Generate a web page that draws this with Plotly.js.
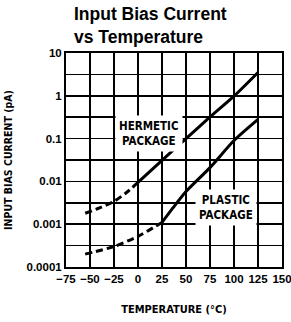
<!DOCTYPE html>
<html><head><meta charset="utf-8">
<script src="https://cdn.plot.ly/plotly-3.0.1.min.js"></script>
<style>body{margin:0;background:#fff}#c{width:291px;height:322px}</style>
</head><body><div id="c"></div>
<script>
// Hermetic package
const hermDashX = [-55, -40, -25, -12, 0];
const hermDashY = [0.0018, 0.0024, 0.0034, 0.0055, 0.0095];
const hermSolidX = [0, 25, 50, 75, 100, 125];
const hermSolidY = [0.0095, 0.031, 0.1, 0.32, 0.98, 3.5];
// Plastic package
const plasDashX = [-55, -25, 0, 25];
const plasDashY = [0.0002, 0.0003, 0.00052, 0.0011];
const plasSolidX = [25, 37, 50, 75, 100, 125];
const plasSolidY = [0.0011, 0.0025, 0.0058, 0.021, 0.09, 0.28];

const yTicks = [0.0001, 0.001, 0.01, 0.1, 1, 10];
const yTickText = ['0.0001', '0.001', '0.01', '0.1', '1', '10'];
const yMinor = [0.000316, 0.00316, 0.0316, 0.316, 3.16];
const xTicks = [-75, -50, -25, 0, 25, 50, 75, 100, 125, 150];

const narrow = 'DejaVu Sans Condensed, Liberation Sans Narrow, Arial Narrow, sans-serif';
const sans = 'Liberation Sans, Arial, sans-serif';
const lineStyle = (dash) => ({color: '#000', width: 3, dash: dash, shape: 'spline', smoothing: 0.6});

const traces = [
  {x: hermDashX, y: hermDashY, mode: 'lines', line: lineStyle('7px,4px'), hoverinfo: 'skip'},
  {x: hermSolidX, y: hermSolidY, mode: 'lines', line: lineStyle('solid'), hoverinfo: 'skip'},
  {x: plasDashX, y: plasDashY, mode: 'lines', line: lineStyle('7px,4px'), hoverinfo: 'skip'},
  {x: plasSolidX, y: plasSolidY, mode: 'lines', line: lineStyle('solid'), hoverinfo: 'skip'}
];

const layout = {
  width: 291, height: 322,
  margin: {l: 66, r: 9, t: 53, b: 55},
  showlegend: false,
  paper_bgcolor: '#fff', plot_bgcolor: '#fff',
  xaxis: {
    range: [-75, 150], tickmode: 'array', tickvals: xTicks,
    showgrid: true, gridcolor: '#000', gridwidth: 1.5,
    showline: true, mirror: true, linecolor: '#000', linewidth: 2,
    zeroline: false, ticks: '', ticklabeloverflow: 'allow',
    tickfont: {family: sans, size: 11.5, color: '#000', weight: 'bold'},
    title: {text: '<b>TEMPERATURE (°C)</b>', standoff: 22,
      font: {family: narrow, size: 11, color: '#000'}}
  },
  yaxis: {
    type: 'log', range: [-4, 1], tickmode: 'array', tickvals: yTicks, ticktext: yTickText,
    showgrid: true, gridcolor: '#000', gridwidth: 1.5,
    minor: {tickmode: 'array', tickvals: yMinor, showgrid: true, gridcolor: '#000', gridwidth: 1.5, ticks: ''},
    showline: true, mirror: true, linecolor: '#000', linewidth: 2,
    zeroline: false, ticks: '',
    tickfont: {family: sans, size: 11.5, color: '#000', weight: 'bold'},
    title: {text: '<b>INPUT BIAS CURRENT (pA)</b>', standoff: 12,
      font: {family: narrow, size: 10.5, color: '#000'}}
  },
  annotations: [
    {xref: 'paper', yref: 'paper', x: (72 - 66) / 216, y: 1 + (53 - 2) / 214, xanchor: 'left', yanchor: 'top',
     align: 'left', showarrow: false, text: '<b>Input Bias Current<br>vs Temperature</b>',
     font: {family: sans, size: 17.5, color: '#000'}},
    {xref: 'x', yref: 'y', x: 11, y: Math.log10(0.13), text: '<b>HERMETIC<br>PACKAGE</b>',
     showarrow: false, bgcolor: '#fff', borderpad: 3,
     font: {family: narrow, size: 11.5, color: '#000'}},
    {xref: 'x', yref: 'y', x: 92, y: Math.log10(0.0024), text: '<b>PLASTIC<br>PACKAGE</b>',
     showarrow: false, bgcolor: '#fff', borderpad: 3,
     font: {family: narrow, size: 11.5, color: '#000'}}
  ]
};

Plotly.newPlot('c', traces, layout, {staticPlot: true, displayModeBar: false});
</script></body></html>
